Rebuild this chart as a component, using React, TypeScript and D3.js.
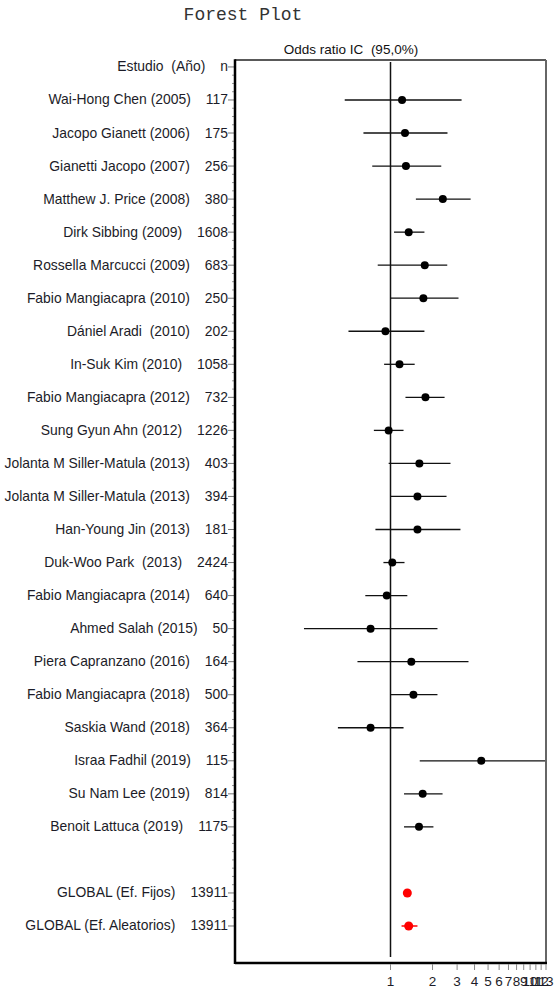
import React, { useEffect, useRef } from 'react';
import * as d3 from 'd3';

// Study labels and sample sizes (rows 1..23)
const studies = [
  'Wai-Hong Chen (2005)',
  'Jacopo Gianett (2006)',
  'Gianetti Jacopo (2007)',
  'Matthew J. Price (2008)',
  'Dirk Sibbing (2009)',
  'Rossella Marcucci (2009)',
  'Fabio Mangiacapra (2010)',
  'Dániel Aradi  (2010)',
  'In-Suk Kim (2010)',
  'Fabio Mangiacapra (2012)',
  'Sung Gyun Ahn (2012)',
  'Jolanta M Siller-Matula (2013)',
  'Jolanta M Siller-Matula (2013)',
  'Han-Young Jin (2013)',
  'Duk-Woo Park  (2013)',
  'Fabio Mangiacapra (2014)',
  'Ahmed Salah (2015)',
  'Piera Capranzano (2016)',
  'Fabio Mangiacapra (2018)',
  'Saskia Wand (2018)',
  'Israa Fadhil (2019)',
  'Su Nam Lee (2019)',
  'Benoit Lattuca (2019)',
];
const sampleSizes = [117, 175, 256, 380, 1608, 683, 250, 202, 1058, 732, 1226, 403, 394, 181, 2424, 640, 50, 164, 500, 364, 115, 814, 1175];
const oddsRatios = [1.21, 1.27, 1.29, 2.37, 1.35, 1.76, 1.72, 0.92, 1.16, 1.78, 0.97, 1.61, 1.56, 1.56, 1.03, 0.94, 0.72, 1.41, 1.46, 0.72, 4.47, 1.7, 1.6];
const ciLower = [0.47, 0.64, 0.74, 1.52, 1.06, 0.81, 1.0, 0.5, 0.9, 1.28, 0.76, 0.97, 1.0, 0.78, 0.89, 0.66, 0.24, 0.58, 1.0, 0.42, 1.62, 1.25, 1.25];
const ciUpper = [3.23, 2.56, 2.31, 3.75, 1.75, 2.55, 3.07, 1.75, 1.49, 2.44, 1.24, 2.69, 2.52, 3.17, 1.26, 1.32, 2.17, 3.62, 2.17, 1.24, 15, 2.36, 2.03];

// Pooled estimates
const globalLabels = ['GLOBAL (Ef. Fijos)', 'GLOBAL (Ef. Aleatorios)'];
const globalN = [13911, 13911];
const globalOR = [1.32, 1.35];
const globalLower = [1.25, 1.2];
const globalUpper = [1.4, 1.56];

const xTicks = [1, 2, 3, 4, 5, 6, 7, 8, 9, 10, 11, 12, 13];

const App = () => {
  const ref = useRef<SVGSVGElement>(null);

  useEffect(() => {
    const svg = d3.select(ref.current);
    svg.selectAll('*').remove();

    const left = 235, right = 546, top = 60, bottom = 963;
    const font = 'Liberation Sans, Arial, sans-serif';

    const x = d3.scaleLog().domain([1 / 13, 13]).range([left, right]);
    const y = d3.scaleLinear().domain([-0.21, 27.12]).range([top, bottom]);

    const rows = [
      { row: 0, label: 'Estudio  (Año)', n: 'n' },
      ...studies.map((s, i) => ({ row: i + 1, label: s, n: String(sampleSizes[i]) })),
      ...globalLabels.map((s, i) => ({ row: 25 + i, label: s, n: String(globalN[i]) })),
    ];

    // Title
    svg.append('text')
      .attr('x', 243).attr('y', 20)
      .attr('text-anchor', 'middle')
      .attr('font-family', 'Liberation Mono, Courier New, monospace')
      .attr('font-size', 18)
      .attr('fill', '#333')
      .text('Forest Plot');

    svg.append('text')
      .attr('x', 351).attr('y', 54)
      .attr('text-anchor', 'middle')
      .attr('font-family', font)
      .attr('font-size', 13.5)
      .attr('fill', '#111')
      .style('white-space', 'pre')
      .text('Odds ratio IC  (95,0%)');

    // Minor y ticks (quarter rows)
    const minor = d3.range(0, 26.01, 0.25).filter(v => !rows.some(r => r.row === v));
    svg.append('g').selectAll('line')
      .data(minor)
      .enter().append('line')
      .attr('x1', left - 3).attr('x2', left)
      .attr('y1', d => y(d)).attr('y2', d => y(d))
      .attr('stroke', '#999').attr('stroke-width', 1);

    // Major y ticks
    svg.append('g').selectAll('line')
      .data(rows)
      .enter().append('line')
      .attr('x1', left - 7).attr('x2', left)
      .attr('y1', d => y(d.row)).attr('y2', d => y(d.row))
      .attr('stroke', '#777').attr('stroke-width', 1);

    // Row labels
    const lbl = svg.append('g').selectAll('text')
      .data(rows)
      .enter().append('text')
      .attr('x', 228)
      .attr('y', d => y(d.row) + 4.5)
      .attr('text-anchor', 'end')
      .attr('font-family', font)
      .attr('font-size', 13.9)
      .attr('fill', '#1c1c28')
      .style('white-space', 'pre');
    lbl.append('tspan').text(d => d.label);
    lbl.append('tspan').attr('dx', 15).text(d => d.n);

    // Reference line at OR = 1
    svg.append('line')
      .attr('x1', x(1)).attr('x2', x(1))
      .attr('y1', top + 2).attr('y2', bottom - 6)
      .attr('stroke', '#111').attr('stroke-width', 1.5);

    const clip = (v: number) => Math.max(1 / 13, Math.min(13, v));

    // Study CIs and points
    svg.append('g').selectAll('line')
      .data(studies.map((_, i) => i))
      .enter().append('line')
      .attr('x1', i => x(clip(ciLower[i]))).attr('x2', i => x(clip(ciUpper[i])))
      .attr('y1', i => y(i + 1)).attr('y2', i => y(i + 1))
      .attr('stroke', '#111').attr('stroke-width', 1.3);

    svg.append('g').selectAll('circle')
      .data(studies.map((_, i) => i))
      .enter().append('circle')
      .attr('cx', i => x(oddsRatios[i]))
      .attr('cy', i => y(i + 1))
      .attr('r', 4)
      .attr('fill', '#000');

    // Global estimates in red
    svg.append('g').selectAll('line')
      .data(globalLabels.map((_, i) => i))
      .enter().append('line')
      .attr('x1', i => x(globalLower[i])).attr('x2', i => x(globalUpper[i]))
      .attr('y1', i => y(25 + i)).attr('y2', i => y(25 + i))
      .attr('stroke', '#f00').attr('stroke-width', 1.5);

    svg.append('g').selectAll('circle')
      .data(globalLabels.map((_, i) => i))
      .enter().append('circle')
      .attr('cx', i => x(globalOR[i]))
      .attr('cy', i => y(25 + i))
      .attr('r', 4.5)
      .attr('fill', '#f00');

    // Plot frame
    svg.append('line').attr('x1', left).attr('x2', right).attr('y1', top).attr('y2', top)
      .attr('stroke', '#222').attr('stroke-width', 1.5);
    svg.append('line').attr('x1', right).attr('x2', right).attr('y1', top).attr('y2', bottom)
      .attr('stroke', '#666').attr('stroke-width', 2);
    svg.append('line').attr('x1', left).attr('x2', left).attr('y1', top - 0.75).attr('y2', bottom + 1)
      .attr('stroke', '#000').attr('stroke-width', 2.5);
    svg.append('line').attr('x1', left).attr('x2', right + 1).attr('y1', bottom).attr('y2', bottom)
      .attr('stroke', '#000').attr('stroke-width', 2.5);

    // X axis ticks and labels (crowded near 13, as in the original)
    const xa = svg.append('g');
    xa.selectAll('line')
      .data(xTicks)
      .enter().append('line')
      .attr('x1', d => x(d)).attr('x2', d => x(d))
      .attr('y1', bottom + 1).attr('y2', bottom + 7)
      .attr('stroke', '#888').attr('stroke-width', 1);
    xa.selectAll('text')
      .data(xTicks)
      .enter().append('text')
      .attr('x', d => x(d))
      .attr('y', bottom + 23)
      .attr('text-anchor', 'middle')
      .attr('font-family', font)
      .attr('font-size', 13.5)
      .attr('fill', '#1c1c28')
      .text(d => d);
  }, []);

  return (
    <svg ref={ref} width={558} height={992}
      style={{ position: 'absolute', left: 0, top: 0, background: '#fff' }} />
  );
};

export default App;
